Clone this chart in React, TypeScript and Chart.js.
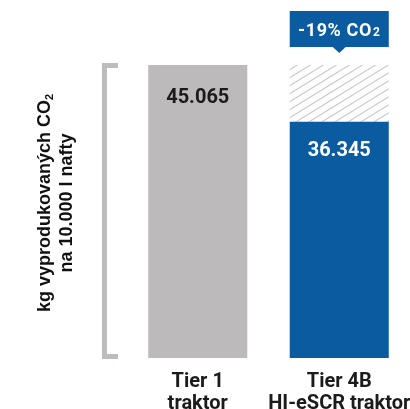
import React, { useEffect, useRef } from "react";
import { Chart, registerables } from "chart.js";

Chart.register(...registerables);

const categories: string[][] = [["Tier 1", "traktor"], ["Tier 4B", "HI-eSCR traktor"]];
const co2Values: number[] = [45.065, 36.345];
const valueLabels: string[] = ["45.065", "36.345"];
const barColors: string[] = ["#bcbaba", "#0b5ba1"];
const labelColors: string[] = ["#1b1b1b", "#ffffff"];
const axisTitle: string[] = ["kg vyprodukovaných CO", "na 10.000 l nafty"];

const NUM_FONT = "Roboto";
const TITLE_FONT = "'Liberation Sans', Arial, sans-serif";

function makeHatch(): CanvasPattern | string {
  const w = 13;
  const h = 8;
  const c = document.createElement("canvas");
  c.width = w;
  c.height = h;
  const g = c.getContext("2d");
  if (!g) return "#ddd";
  g.fillStyle = "#ffffff";
  g.fillRect(0, 0, w, h);
  g.strokeStyle = "#cbcbcb";
  g.lineWidth = 1.1;
  const line = (x0: number, y0: number, x1: number, y1: number) => {
    g.beginPath();
    g.moveTo(x0, y0);
    g.lineTo(x1, y1);
    g.stroke();
  };
  line(0, h, w, 0);
  line(-w, h, w, -h);
  line(0, 2 * h, 2 * w, 0);
  const p = g.createPattern(c, "repeat");
  return p || "#ddd";
}

const overlayPlugin = {
  id: "overlay",
  afterDatasetsDraw(chart: any) {
    const { ctx, chartArea, scales } = chart;
    const yScale = scales.y;
    const meta = chart.getDatasetMeta(0);
    const topPx = yScale.getPixelForValue(co2Values[0]);
    const basePx = yScale.getPixelForValue(0);
    const L = chartArea.left;
    ctx.save();

    // bracket
    ctx.fillStyle = "#bdbbbb";
    ctx.fillRect(L - 25, topPx - 2, 5, basePx - topPx + 3);
    ctx.fillRect(L - 25, topPx - 2, 16, 5);
    ctx.fillRect(L - 25, basePx - 4, 16, 5);

    // value labels
    ctx.font = `bold 20px ${NUM_FONT}`;
    ctx.textAlign = "center";
    ctx.textBaseline = "middle";
    meta.data.forEach((bar: any, i: number) => {
      ctx.fillStyle = labelColors[i];
      ctx.fillText(valueLabels[i], bar.x, bar.y + (i === 0 ? 33 : 29));
    });

    // callout
    const b = meta.data[1];
    const bx0 = b.x - b.width / 2;
    const bTop = chartArea.top - 54;
    const bBot = chartArea.top - 18;
    ctx.fillStyle = barColors[1];
    ctx.fillRect(bx0, bTop, b.width, bBot - bTop);
    ctx.beginPath();
    ctx.moveTo(b.x - 7, bBot - 0.5);
    ctx.lineTo(b.x + 7, bBot - 0.5);
    ctx.lineTo(b.x, bBot + 6);
    ctx.closePath();
    ctx.fill();
    const pct = Math.round(((co2Values[1] - co2Values[0]) / co2Values[0]) * 100);
    const main = `${pct}% CO`;
    (ctx as any).letterSpacing = "0.6px";
    ctx.font = `bold 18px ${NUM_FONT}`;
    const wMain = ctx.measureText(main).width;
    ctx.font = `bold 12px ${NUM_FONT}`;
    const wSub = ctx.measureText("2").width;
    const total = wMain + 1 + wSub;
    const cy = (bTop + bBot) / 2 + 1;
    ctx.fillStyle = "#ffffff";
    ctx.textAlign = "left";
    ctx.textBaseline = "alphabetic";
    ctx.font = `bold 18px ${NUM_FONT}`;
    ctx.fillText(main, b.x - total / 2, cy + 6);
    ctx.font = `bold 12px ${NUM_FONT}`;
    ctx.fillText("2", b.x - total / 2 + wMain + 1, cy + 6);
    (ctx as any).letterSpacing = "0px";

    // y axis title
    ctx.fillStyle = "#111111";
    const midY = 203;
    const drawRot = (x: number, fn: () => void) => {
      ctx.save();
      ctx.translate(x, midY);
      ctx.rotate(-Math.PI / 2);
      fn();
      ctx.restore();
    };
    drawRot(50, () => {
      ctx.font = `bold 18px ${TITLE_FONT}`;
      const w1 = ctx.measureText(axisTitle[0]).width;
      ctx.font = `bold 11px ${TITLE_FONT}`;
      const w2 = ctx.measureText("2").width;
      const t = w1 + w2;
      ctx.textAlign = "left";
      ctx.textBaseline = "alphabetic";
      ctx.font = `bold 18px ${TITLE_FONT}`;
      ctx.fillText(axisTitle[0], -t / 2, 0);
      ctx.font = `bold 11px ${TITLE_FONT}`;
      ctx.fillText("2", -t / 2 + w1, 3);
    });
    drawRot(72, () => {
      ctx.font = `bold 18px ${TITLE_FONT}`;
      ctx.textAlign = "center";
      ctx.textBaseline = "alphabetic";
      ctx.fillText(axisTitle[1], 0, 0);
    });
    ctx.restore();
  },
};

export default function App() {
  const ref = useRef<HTMLCanvasElement | null>(null);
  useEffect(() => {
    document.body.style.margin = "0";
    if (!ref.current) return;
    const hatch = makeHatch();
    const chart = new Chart(ref.current, {
      type: "bar",
      data: {
        labels: categories,
        datasets: [
          {
            data: co2Values,
            backgroundColor: barColors,
            borderWidth: 0,
            barPercentage: 0.7,
            categoryPercentage: 1,
            order: 1,
          },
          {
            data: [null, [co2Values[1], co2Values[0]]] as any,
            backgroundColor: hatch as any,
            borderWidth: 0,
            barPercentage: 0.7,
            categoryPercentage: 1,
            order: 2,
          },
        ],
      },
      options: {
        animation: false,
        responsive: true,
        maintainAspectRatio: false,
        grouped: false,
        layout: { padding: { top: 65, left: 127, right: 0, bottom: 0 } },
        plugins: { legend: { display: false }, tooltip: { enabled: false } },
        scales: {
          y: { display: false, min: 0, max: co2Values[0] },
          x: {
            grid: { display: false, drawTicks: false },
            border: { display: false },
            afterFit: (scale: any) => {
              scale.height = 51;
              scale.paddingLeft = 0;
              scale.paddingRight = 0;
            },
            ticks: {
              color: "#1b1b1b",
              font: { family: NUM_FONT, weight: "bold", size: 20, lineHeight: 1.1 },
              padding: 13,
              maxRotation: 0,
              autoSkip: false,
            },
          },
        },
      } as any,
      plugins: [overlayPlugin],
    });
    return () => chart.destroy();
  }, []);
  return (
    <div style={{ position: "relative", width: 410, height: 409 }}>
      <canvas ref={ref} />
    </div>
  );
}
